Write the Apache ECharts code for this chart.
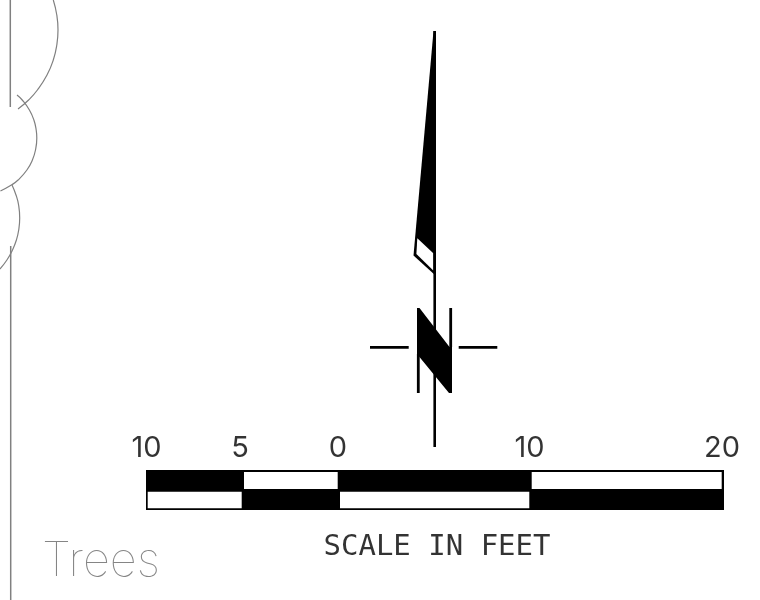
<!DOCTYPE html>
<html><head><meta charset="utf-8">
<style>html,body{margin:0;padding:0;background:#fff}#c{width:760px;height:600px}</style>
<script src="https://cdn.jsdelivr.net/npm/echarts@6/dist/echarts.min.js"></script>
</head><body><div id="c"></div>
<script>
// Drawing outline, in drawing units
const treeArc1 = [[53.3,0],[56.8,15],[58,30],[56.8,45],[53.3,60],[47,75],[37.4,90],[28.6,100],[18,109]];
const treeArc2 = [[17,95],[22.2,100],[29.4,110],[33.9,120],[36.2,130],[36.8,138],[35.5,150],[32.4,160],[26.9,170],[18.1,180],[11.4,185],[0.4,191]];
const treeArc3 = [[12,185],[16,195],[18.6,205],[19.7,218],[18.7,230],[16.4,240],[12.5,250],[6.9,260],[-0.1,269]];
const edgeTop = [[10.3,0],[10.3,107]];
const edgeBottom = [[10.7,246],[10.7,600]];
const needleLine = [[434.7,31],[434.7,447]];
const crossLeft = [[370,347.3],[408.7,347.3]];
const crossRight = [[458.7,347.3],[497.3,347.3]];
const stemLeft = [[418.3,354],[418.3,393]];
const stemRight = [[450.7,308],[450.7,347]];
const needleBlack = [[433.5,31],[436,31],[436,276],[413.5,255.5]];
const needleWhite = [[417.3,238.3],[433.3,253.3],[433.3,270.5],[416.4,254]];
const letterN = [[417,308],[419.5,308],[449.5,347],[452,347],[452,393],[449,393],[417,354]];
const scaleOuter = [[146,470],[724,470],[724,510],[146,510]];
const scaleWhite = [
  [[244,472],[337.7,472],[337.7,489],[244,489]],
  [[531.7,472],[721.7,472],[721.7,489],[531.7,489]],
  [[147.7,491.7],[241.7,491.7],[241.7,508.3],[147.7,508.3]],
  [[340,491.7],[529.3,491.7],[529.3,508.3],[340,508.3]]
];
const tickLabels = ['10','5','0','10','20'];
const tickX = [146.5,240,338,529.5,722];
const tickY = 448;
const scaleTitle = 'SCALE IN FEET';
const treesLabel = 'Trees';

const line = (data,color,width,smooth)=>({type:'line',data,showSymbol:false,symbol:'none',smooth:smooth?0.5:false,silent:true,
  lineStyle:{color,width,cap:'butt'},animation:false});
const poly = (pts,fill)=>({type:'custom',silent:true,animation:false,clip:false,data:[0],
  renderItem:(p,api)=>({type:'polygon',shape:{points:pts.map(q=>api.coord(q))},style:{fill}})});
const text = (x,y,t,font)=>({type:'scatter',symbolSize:0,silent:true,animation:false,data:[[x,y]],
  label:{show:true,position:'inside',formatter:t,align:'center',verticalAlign:'middle',...font}});

const tickFont = {fontFamily:'Inter',fontSize:29,fontWeight:400,color:'#000'};
const chart = echarts.init(document.getElementById('c'),null,{renderer:'canvas'});
chart.setOption({
  backgroundColor:'#fff',animation:false,
  grid:{left:0,right:0,top:0,bottom:0},
  xAxis:{type:'value',min:0,max:760,show:false},
  yAxis:{type:'value',min:0,max:600,inverse:true,show:false},
  series:[
    line(treeArc1,'#808080',1.2,true),line(treeArc2,'#808080',1.2,true),line(treeArc3,'#808080',1.2,true),
    line(edgeTop,'#808080',1.5),line(edgeBottom,'#808080',1.5),
    line(needleLine,'#000',2.6),line(crossLeft,'#000',2.8),line(crossRight,'#000',2.8),
    line(stemLeft,'#000',2.8),line(stemRight,'#000',2.8),
    poly(needleBlack,'#000'),poly(needleWhite,'#fff'),poly(letterN,'#000'),
    poly(scaleOuter,'#000'),...scaleWhite.map(r=>poly(r,'#fff')),
    ...tickLabels.map((t,i)=>text(tickX[i],tickY,t,tickFont)),
    text(437,547,scaleTitle,{fontFamily:'DejaVu Sans Mono',fontSize:29,color:'#000'}),
    text(101,562,treesLabel,{fontFamily:'Inter',fontWeight:100,fontSize:47,color:'#666'})
  ]
});
</script></body></html>
